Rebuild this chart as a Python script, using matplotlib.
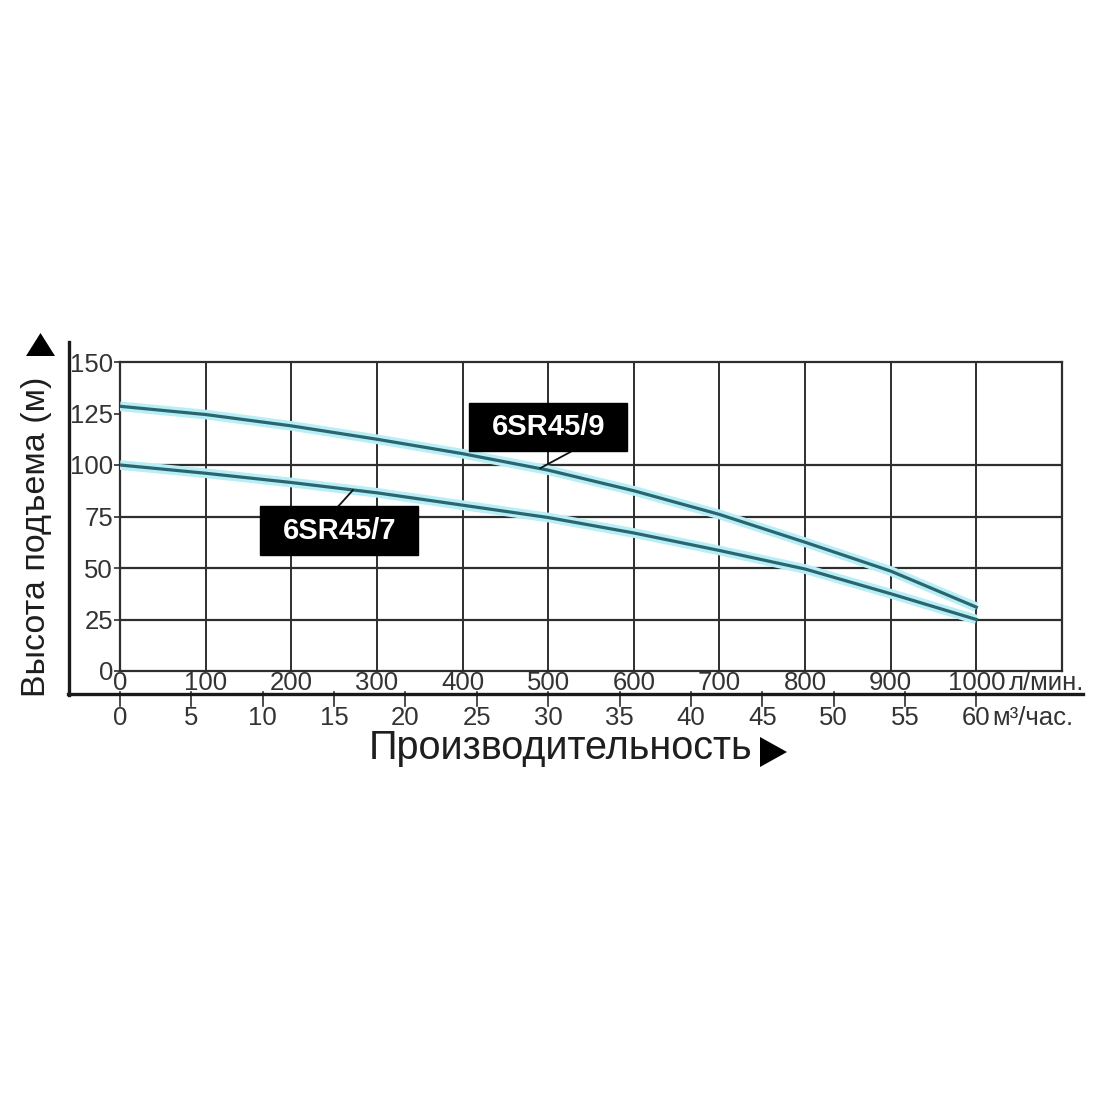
import matplotlib
matplotlib.use("Agg")
import matplotlib.pyplot as plt
from matplotlib.lines import Line2D
from matplotlib.patches import Polygon, Rectangle
from matplotlib.transforms import blended_transform_factory

# ---- data ----
flow_lpm = [0, 100, 200, 300, 400, 500, 600, 700, 800, 900, 1000]
head_6sr45_9 = [128.5, 124.5, 119, 112.5, 105.5, 97.5, 87.5, 76, 62.5, 48.5, 31]
head_6sr45_7 = [100, 96, 91.5, 86.5, 80.5, 74.5, 67, 58.5, 49.5, 37.5, 25]
series_names = ["6SR45/9", "6SR45/7"]
y_ticks = [0, 25, 50, 75, 100, 125, 150]
y_grid = [25, 50, 75, 100]
x_ticks_lpm = [0, 100, 200, 300, 400, 500, 600, 700, 800, 900, 1000]
x_ticks_m3h = [0, 5, 10, 15, 20, 25, 30, 35, 40, 45, 50, 55, 60]
y_label = "Высота подъема (м)"
x_label = "Производительность"
unit_lpm = "л/мин."
unit_m3h = "м³/час."

plt.rcParams['font.family'] = ['Liberation Sans', 'DejaVu Sans']
W = H = 1100
fig = plt.figure(figsize=(11, 11), dpi=100)
fig.patch.set_facecolor("white")

def fx(px):
    return px / W

def fy(py):
    return 1 - py / H

L, R, T, B = 120, 1062, 362, 671
ax = fig.add_axes([fx(L), fy(B), fx(R - L), (B - T) / H])
ax.set_xlim(0, 1100)
ax.set_ylim(0, 150)

gc = "#2e2e2e"
txtc = "#333333"
for s in ax.spines.values():
    s.set_color(gc)
    s.set_linewidth(1.6)

for g in y_grid:
    ax.axhline(g, color=gc, lw=1.6, zorder=1)
for v in x_ticks_lpm[1:]:
    ax.axvline(v, color=gc, lw=1.4, zorder=1)

ax.set_yticks(y_ticks)
ax.set_yticklabels([str(t) for t in y_ticks], fontsize=18.5, color=txtc)
ax.tick_params(axis='y', length=4, width=1.2, color=gc, pad=1)
ax.set_xticks([])

# curves
for vals in (head_6sr45_9, head_6sr45_7):
    ax.plot(flow_lpm, vals, color="#b8eef6", lw=7, solid_capstyle="butt",
            solid_joinstyle="round", zorder=3)
    ax.plot(flow_lpm, vals, color="#2b6670", lw=2.3, solid_joinstyle="round", zorder=4)

# callout boxes
def callout(cx, cy, w, h, text, lx0, ly0, lx1, ly1):
    ax.plot([lx0, lx1], [ly0, ly1], color="#111111", lw=1.3, zorder=5)
    ax.add_patch(Rectangle((cx - w / 2, cy - h / 2), w, h, facecolor="black",
                           edgecolor="black", zorder=6))
    ax.text(cx, cy, text, color="white", fontsize=21, fontweight="bold",
            ha="center", va="center", zorder=7)

callout(500, 118.5, 185, 23.3, series_names[0], 528, 106.8, 491, 98.5)
callout(256, 68.2, 185, 23.8, series_names[1], 255, 80, 272, 87.8)

# x tick label rows
tr = blended_transform_factory(ax.transData, ax.transAxes)
row1_y = (B - 683) / (B - T)
row2_y = (B - 718) / (B - T)
for v in x_ticks_lpm:
    ax.text(v, row1_y, str(v), transform=tr, ha="center", va="center",
            fontsize=18.5, color=txtc, clip_on=False)
ax.text(1000 + 32 / 0.857, row1_y, unit_lpm, transform=tr, ha="left", va="center",
        fontsize=18.5, color=txtc, clip_on=False)

t0 = (B - 692) / (B - T)
t1 = (B - 706) / (B - T)
for m in x_ticks_m3h:
    xv = m * 1000 / 60
    ax.plot([xv, xv], [t0, t1], transform=tr, color=gc, lw=1.2, clip_on=False)
    ax.text(xv, row2_y, str(m), transform=tr, ha="center", va="center",
            fontsize=18.5, color=txtc, clip_on=False)
ax.text(1000 + 16 / 0.857, row2_y, unit_m3h, transform=tr, ha="left", va="center",
        fontsize=18.5, color=txtc, clip_on=False)

# outer axis lines
fig.add_artist(Line2D([fx(69), fx(69)], [fy(342), fy(695)], color="#1a1a1a", lw=2.4))
fig.add_artist(Line2D([fx(68), fx(1083)], [fy(694), fy(694)], color="#1a1a1a", lw=2.4))

# arrows
fig.add_artist(Polygon([[fx(26), fy(356)], [fx(55), fy(356)], [fx(40.5), fy(333)]],
                       closed=True, facecolor="black", edgecolor="none",
                       transform=fig.transFigure))
fig.add_artist(Polygon([[fx(760), fy(737)], [fx(760), fy(767)], [fx(787), fy(752)]],
                       closed=True, facecolor="black", edgecolor="none",
                       transform=fig.transFigure))

# axis titles
fig.text(fx(37), fy(537), y_label, rotation=90, ha="center", va="center",
         fontsize=24.5, color="#1e1e1e")
fig.text(fx(561), fy(748), x_label, ha="center", va="center",
         fontsize=28.5, color="#1e1e1e")

fig.savefig("out.png", dpi=100, facecolor="white")
